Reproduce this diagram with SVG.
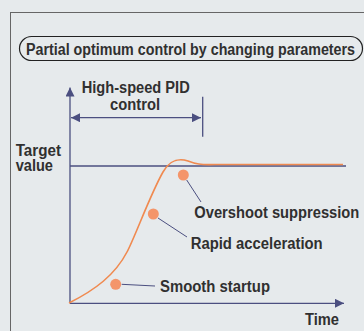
<svg xmlns="http://www.w3.org/2000/svg" width="364" height="331" viewBox="0 0 364 331">
<defs>
<style>
.t{font-family:"Liberation Sans",Arial,sans-serif;font-weight:bold;font-size:16px;fill:#303030}
.ax{stroke:#4b4f80;stroke-width:1.3;fill:none}
.ld{stroke:#4b4f80;stroke-width:1;fill:none}
.dot{fill:#f4956a}
</style>
<marker id="ah" viewBox="0 0 10 10" refX="10" refY="5" markerWidth="9" markerHeight="9" markerUnits="userSpaceOnUse" orient="auto-start-reverse">
<path d="M0,0 L10,5 L0,10 z" fill="#4b4f80"/>
</marker>
</defs>
<rect width="364" height="331" fill="#e6eaec"/>
<rect x="10.5" y="12.5" width="360" height="330" fill="none" stroke="#666" stroke-width="1"/>
<g id="title">
<rect x="19.5" y="36.5" width="343" height="24" rx="12" fill="none" stroke="#222" stroke-width="1.2"/>
<text class="t" x="26" y="55" font-size="14.3" textLength="329" lengthAdjust="spacingAndGlyphs">Partial optimum control by changing parameters</text>
</g>
<g id="connectors">
<line class="ax" x1="70" y1="303.3" x2="70" y2="87.5" marker-end="url(#ah)"/>
<line class="ax" x1="70" y1="303.3" x2="344" y2="303.3" marker-end="url(#ah)"/>
<line class="ax" x1="71" y1="117.7" x2="201" y2="117.7" marker-start="url(#ah)" marker-end="url(#ah)"/>
<line class="ax" x1="202.7" y1="96.7" x2="202.7" y2="136.7"/>
<line class="ax" x1="70" y1="166" x2="346" y2="166"/>
<path d="M69,303 C95,290 115,275 127,252 C135,237 150,195 163,172 C170,160 178,158 188,161 C196,164 200,165 215,164.5 L343,164.5" fill="none" stroke="#f08a50" stroke-width="1.6"/>
<line class="ld" x1="186.7" y1="180" x2="201" y2="202"/>
<line class="ld" x1="158" y1="218" x2="187" y2="237"/>
<line class="ld" x1="121.7" y1="284.3" x2="155" y2="286"/>
</g>
<g id="pid-label">
<text class="t" x="81.7" y="93.3" textLength="108" lengthAdjust="spacingAndGlyphs">High-speed PID</text>
<text class="t" x="110" y="110" textLength="50" lengthAdjust="spacingAndGlyphs">control</text>
</g>
<g id="target-label">
<text class="t" x="15.7" y="155.5" font-size="15" textLength="45.3" lengthAdjust="spacingAndGlyphs">Target</text>
<text class="t" x="15.7" y="170.5" font-size="15" textLength="37.3" lengthAdjust="spacingAndGlyphs">value</text>
</g>
<g id="overshoot">
<circle class="dot" cx="183.3" cy="175" r="5.5"/>
<text class="t" x="194.3" y="217.5" font-size="14.8" textLength="165" lengthAdjust="spacingAndGlyphs">Overshoot suppression</text>
</g>
<g id="rapid">
<circle class="dot" cx="153.3" cy="214" r="5.5"/>
<text class="t" x="190.7" y="248.5" textLength="132" lengthAdjust="spacingAndGlyphs">Rapid acceleration</text>
</g>
<g id="smooth">
<circle class="dot" cx="115.7" cy="284.3" r="5.5"/>
<text class="t" x="160" y="292" textLength="110" lengthAdjust="spacingAndGlyphs">Smooth startup</text>
</g>
<g id="time-label">
<text class="t" x="305" y="325" textLength="34" lengthAdjust="spacingAndGlyphs">Time</text>
</g>
</svg>
